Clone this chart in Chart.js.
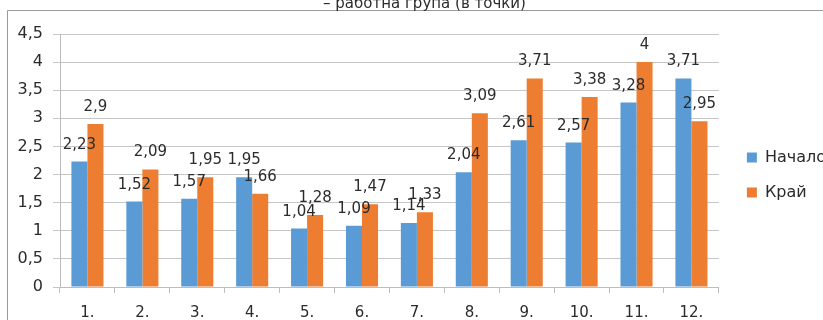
<!DOCTYPE html>
<html>
<head>
<meta charset="utf-8">
<script src="https://cdn.jsdelivr.net/npm/chart.js@4/dist/chart.umd.min.js"></script>
<style>
  body { margin: 0; background: #fff; }
  #wrap { width: 823px; height: 320px; }
</style>
</head>
<body>
<div id="wrap"><canvas id="myBarChart" width="823" height="320"></canvas></div>
<script>
// categories and series
const labels = ['1.', '2.', '3.', '4.', '5.', '6.', '7.', '8.', '9.', '10.', '11.', '12.'];
const startValues = [2.23, 1.52, 1.57, 1.95, 1.04, 1.09, 1.14, 2.04, 2.61, 2.57, 3.28, 3.71];
const endValues = [2.9, 2.09, 1.95, 1.66, 1.28, 1.47, 1.33, 3.09, 3.71, 3.38, 4, 2.95];
const seriesNames = ['Начало', 'Край'];
const titleText = '– работна група (в точки)';

const FONT = 'DejaVu Sans';
const TEXT = '#2b2b2b';

function withComma(v) {
    return String(v).replace('.', ',');
}

// chart frame (top and left border) drawn behind everything
const framePlugin = {
    id: 'frame',
    beforeDraw(chart) {
        const ctx = chart.ctx;
        ctx.save();
        ctx.strokeStyle = '#9a9a9a';
        ctx.lineWidth = 1;
        ctx.beginPath();
        ctx.moveTo(7.5, 320);
        ctx.lineTo(7.5, 10.5);
        ctx.lineTo(823, 10.5);
        ctx.stroke();
        ctx.restore();
    }
};

// value labels above each bar
const valueLabels = {
    id: 'valueLabels',
    afterDatasetsDraw(chart) {
        const ctx = chart.ctx;
        ctx.save();
        ctx.font = '15px "' + FONT + '"';
        ctx.fillStyle = TEXT;
        ctx.textAlign = 'center';
        ctx.textBaseline = 'alphabetic';
        chart.data.datasets.forEach((ds, i) => {
            chart.getDatasetMeta(i).data.forEach((bar, j) => {
                ctx.fillText(withComma(ds.data[j]), bar.x, bar.y - 13);
            });
        });
        ctx.restore();
    }
};

// nudge legend and title into place after layout
const boxShift = {
    id: 'boxShift',
    afterLayout(chart) {
        chart.legend.top += 9;
        chart.legend.bottom += 9;
        chart.legend.left += 9;
        chart.legend.right += 9;
        chart.titleBlock.left += 11;
        chart.titleBlock.right += 11;
    }
};

var ctx = document.getElementById('myBarChart').getContext('2d');
var myBarChart = new Chart(ctx, {
    type: 'bar',
    data: {
        labels: labels,
        datasets: [{
            label: seriesNames[0],
            data: startValues,
            backgroundColor: '#5B9BD5',
            barPercentage: 1,
            categoryPercentage: 0.584
        }, {
            label: seriesNames[1],
            data: endValues,
            backgroundColor: '#ED7D31',
            barPercentage: 1,
            categoryPercentage: 0.584
        }]
    },
    options: {
        responsive: false,
        devicePixelRatio: 1,
        animation: false,
        layout: { padding: { left: 0, right: -4, top: 12, bottom: 0 } },
        plugins: {
            title: {
                display: true,
                text: titleText,
                color: TEXT,
                font: { family: FONT, size: 15, weight: 'normal' },
                padding: { top: -17, bottom: 21 }
            },
            legend: {
                position: 'right',
                labels: {
                    color: TEXT,
                    font: { family: FONT, size: 16 },
                    boxWidth: 10,
                    boxHeight: 10,
                    padding: 19
                }
            },
            tooltip: { enabled: false }
        },
        scales: {
            x: {
                afterFit: function (scale) { scale.height = 33; },
                grid: {
                    drawOnChartArea: false,
                    drawTicks: true,
                    tickLength: 6,
                    color: '#bdbdbd'
                },
                border: { color: '#bdbdbd' },
                ticks: {
                    color: TEXT,
                    font: { family: FONT, size: 15 },
                    padding: 11
                }
            },
            y: {
                min: 0,
                max: 4.5,
                afterFit: function (scale) { scale.width = 60; },
                ticks: {
                    stepSize: 0.5,
                    color: TEXT,
                    font: { family: FONT, size: 16 },
                    padding: 10,
                    callback: v => withComma(v)
                },
                grid: { color: '#c6c6c6', tickLength: 7 },
                border: { color: '#bdbdbd' }
            }
        }
    },
    plugins: [framePlugin, valueLabels, boxShift]
});
</script>
</body>
</html>
